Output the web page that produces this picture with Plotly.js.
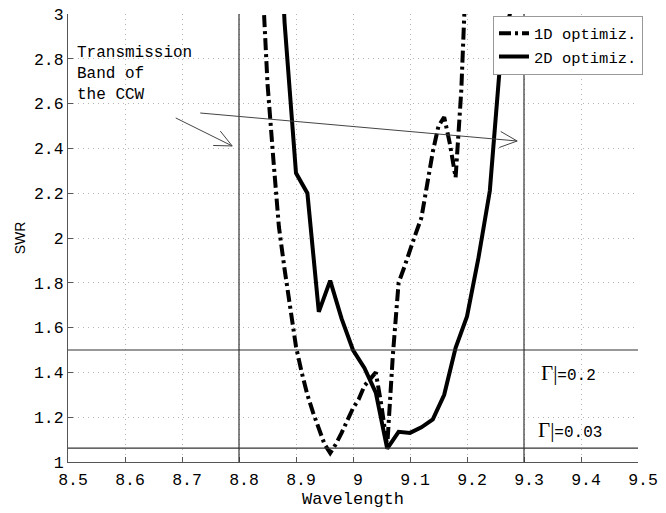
<!DOCTYPE html>
<html>
<head>
<meta charset="utf-8">
<script src="https://cdn.plot.ly/plotly-3.0.1.min.js"></script>
<style>
  html, body { margin: 0; padding: 0; background: #fff; }
  #chart { width: 666px; height: 513px; }
</style>
</head>
<body>
<div id="chart"></div>
<script>
// SWR versus wavelength for the two optimisation approaches
const wavelength1D = [8.84, 8.85, 8.86, 8.87, 8.88, 8.89, 8.90, 8.91, 8.92, 8.93,
                      8.94, 8.95, 8.96, 8.97, 8.98, 8.99, 9.00, 9.01, 9.02, 9.03,
                      9.04, 9.05, 9.06, 9.07, 9.08, 9.09, 9.10, 9.11, 9.12, 9.13,
                      9.14, 9.15, 9.16, 9.17, 9.18, 9.19, 9.20];
const swr1D = [3.20, 2.69, 2.36, 2.05, 1.86, 1.69, 1.515, 1.40, 1.30, 1.22,
               1.15, 1.08, 1.04, 1.08, 1.13, 1.19, 1.24, 1.28, 1.34, 1.37,
               1.40, 1.25, 1.07, 1.48, 1.80, 1.87, 1.95, 2.02, 2.09, 2.24,
               2.385, 2.50, 2.54, 2.42, 2.27, 2.66, 3.30];

const wavelength2D = [8.86, 8.88, 8.90, 8.92, 8.94, 8.96, 8.98, 9.00, 9.02, 9.04,
                      9.06, 9.08, 9.10, 9.12, 9.14, 9.16, 9.18, 9.20, 9.22, 9.24,
                      9.26, 9.28, 9.30];
const swr2D = [4.00, 2.96, 2.29, 2.20, 1.67, 1.81, 1.64, 1.50, 1.42, 1.31,
               1.06, 1.135, 1.13, 1.155, 1.19, 1.30, 1.51, 1.65, 1.91, 2.21,
               2.84, 3.05, 3.80];

const seriesNames = ['1D optimiz.', '2D optimiz.'];

// transmission band edges of the CCW and reflection-coefficient limits
const bandEdges = [8.8, 9.3];
const gammaLimits = [0.2, 0.03];
const gammaLabels = ['0.2', '0.03'];

const xRange = [8.5, 9.5];
const yRange = [1, 3];

const margin = {l: 68, r: 28, t: 14, b: 51};
const plotW = 666 - margin.l - margin.r;
const plotH = 513 - margin.t - margin.b;
const kx = plotW / (xRange[1] - xRange[0]);
const ky = plotH / (yRange[1] - yRange[0]);

const mono = 'Liberation Mono, Courier New, monospace';
const refColor = '#333';

// thin open arrow: shaft plus two barbs, barbs sized in pixels
function arrowShapes(tail, tip) {
  const dx = (tip[0] - tail[0]) * kx;
  const dy = (tip[1] - tail[1]) * ky;
  const back = Math.atan2(dy, dx) + Math.PI;
  const len = 19, half = 25 * Math.PI / 180;
  const line = {color: '#444', width: 1};
  const shapes = [{type: 'line', xref: 'x', yref: 'y',
                   x0: tail[0], y0: tail[1], x1: tip[0], y1: tip[1], line: line}];
  [back + half, back - half].forEach(a => {
    shapes.push({type: 'line', xref: 'x', yref: 'y',
                 x0: tip[0], y0: tip[1],
                 x1: tip[0] + len * Math.cos(a) / kx,
                 y1: tip[1] + len * Math.sin(a) / ky,
                 line: line});
  });
  return shapes;
}

const shapes = [];
bandEdges.forEach(x => shapes.push({
  type: 'line', xref: 'x', yref: 'paper', x0: x, x1: x, y0: 0, y1: 1,
  line: {color: refColor, width: 1.2}
}));
gammaLimits.forEach(g => {
  const s = (1 + g) / (1 - g);
  shapes.push({type: 'line', xref: 'paper', yref: 'y', x0: 0, x1: 1, y0: s, y1: s,
               line: {color: refColor, width: 1.2}});
});
arrowShapes([8.689, 2.536], [8.788, 2.411]).forEach(s => shapes.push(s));
arrowShapes([8.732, 2.558], [9.288, 2.433]).forEach(s => shapes.push(s));

const annotations = [{
  xref: 'x', yref: 'y', x: 8.512, y: 2.73, xanchor: 'left', yanchor: 'middle',
  align: 'left', showarrow: false,
  text: 'Transmission<br>Band of<br>the CCW',
  font: {family: mono, size: 16, color: '#000'}
}];
const gammaPos = [[9.326, 1.397], [9.321, 1.143]];
gammaLabels.forEach((lab, i) => annotations.push({
  xref: 'x', yref: 'y', x: gammaPos[i][0], y: gammaPos[i][1],
  xanchor: 'left', yanchor: 'middle', showarrow: false,
  text: '<span style="font-family:Liberation Serif;font-size:21px">\u0393|</span>=' + lab,
  font: {family: mono, size: 16, color: '#000'}
}));

const traces = [
  {x: wavelength1D, y: swr1D, name: seriesNames[0], type: 'scatter', mode: 'lines',
   line: {color: '#000', width: 4, dash: '12px,4px,3px,4px'}},
  {x: wavelength2D, y: swr2D, name: seriesNames[1], type: 'scatter', mode: 'lines',
   line: {color: '#000', width: 4}}
];

const axisCommon = {
  showline: true, linecolor: '#555', linewidth: 1,
  ticks: 'inside', ticklen: 5, tickcolor: '#555',
  showgrid: true, gridcolor: '#b5b5b5', griddash: '1px,4px', gridwidth: 1,
  zeroline: false, mirror: false, automargin: false,
  tickfont: {family: mono, size: 16.5, color: '#000'}
};

const layout = {
  width: 666, height: 513,
  margin: margin,
  paper_bgcolor: '#fff', plot_bgcolor: '#fff',
  showlegend: true,
  legend: {x: 0.7456, y: 0.996, xanchor: 'left', yanchor: 'top',
           bgcolor: '#fff', bordercolor: '#999', borderwidth: 1,
           font: {family: mono, size: 15.5, color: '#000'}},
  xaxis: Object.assign({}, axisCommon, {
    range: xRange, dtick: 0.1, tick0: 8.5, ticklabelshift: 5, ticklabelstandoff: 2,
    title: {text: 'Wavelength', standoff: 3,
            font: {family: mono, size: 17, color: '#000'}}
  }),
  yaxis: Object.assign({}, axisCommon, {
    range: yRange, dtick: 0.2, tick0: 1,
    title: {text: 'SWR', standoff: 5,
            font: {family: 'Liberation Sans, Arial, sans-serif', size: 14, color: '#000'}}
  }),
  shapes: shapes,
  annotations: annotations
};

Plotly.newPlot('chart', traces, layout, {staticPlot: true, displayModeBar: false});
</script>
</body>
</html>
